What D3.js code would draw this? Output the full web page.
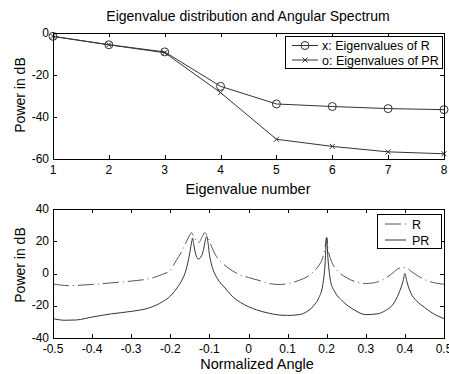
<!DOCTYPE html>
<html>
<head>
<meta charset="utf-8">
<script src="https://cdn.jsdelivr.net/npm/d3@7"></script>
<style>
  html, body { margin: 0; padding: 0; background: #fff; }
  svg { display: block; }
  text { font-family: Arial, "Liberation Sans", Helvetica, sans-serif; fill: #000; }
</style>
</head>
<body>
<svg id="chart" width="449" height="374"></svg>
<script>
// Eigenvalue plot data (dB)
const eigIndex = [1, 2, 3, 4, 5, 6, 7, 8];
const eigR  = [-1.6, -5.6, -9.0, -25.4, -33.8, -35.0, -36.0, -36.5];
const eigPR = [-1.6, -5.6, -9.4, -28.4, -50.6, -54.0, -56.6, -57.5];

// Angular spectrum data: normalized angle vs power (dB)
const angR = [-0.5, -0.46, -0.4, -0.35, -0.3, -0.25, -0.22, -0.2, -0.185, -0.17, -0.16, -0.15, -0.146, -0.14, -0.128,
  -0.118, -0.112, -0.105, -0.095, -0.082, -0.06, -0.04, -0.02, 0, 0.03, 0.06, 0.08, 0.1, 0.13, 0.15, 0.17, 0.18,
  0.19, 0.195, 0.2, 0.203, 0.21, 0.22, 0.23, 0.25, 0.28, 0.3, 0.33, 0.35, 0.37, 0.385, 0.395, 0.405, 0.415, 0.43,
  0.45, 0.48, 0.5];
const powR = [-6.5, -7.5, -6.8, -5.8, -4.7, -3.0, -0.5, 2.0, 8.0, 14.0, 19.0, 24.0, 25.3, 23.0, 19.0,
  23.0, 25.3, 23.0, 17.0, 10.5, 5.0, 1.5, -1.0, -2.5, -4.5, -6.5, -6.8, -6.3, -4.2, -2.0, 2.0, 5.0,
  10.0, 15.0, 22.5, 16.0, 9.0, 4.0, 1.0, -2.5, -5.5, -6.2, -5.2, -3.0, 0.5, 3.3, 3.7, 3.3, 1.5, -1.0,
  -3.7, -6.0, -6.6];

const angPR = [-0.5, -0.47, -0.44, -0.4, -0.35, -0.3, -0.25, -0.22, -0.2, -0.18, -0.17, -0.16, -0.155, -0.15, -0.145,
  -0.143, -0.14, -0.135, -0.128, -0.12, -0.115, -0.11, -0.107, -0.103, -0.1, -0.095, -0.09, -0.08, -0.06, -0.04,
  -0.02, 0, 0.02, 0.05, 0.08, 0.1, 0.13, 0.15, 0.17, 0.18, 0.19, 0.195, 0.2, 0.203, 0.207, 0.21, 0.22, 0.24,
  0.27, 0.3, 0.33, 0.35, 0.37, 0.385, 0.395, 0.4, 0.405, 0.415, 0.43, 0.45, 0.47, 0.5];
const powPR = [-28.0, -29.0, -28.8, -27.0, -25.0, -23.5, -21.0, -17.5, -14.0, -8.0, -4.0, 2.0, 7.0, 13.0, 20.0,
  22.0, 18.0, 12.0, 9.0, 11.0, 15.0, 21.0, 23.0, 18.0, 12.0, 6.0, 2.0, -3.0, -9.0, -14.5,
  -18.0, -20.6, -22.5, -24.5, -25.8, -26.0, -25.5, -23.5, -19.0, -15.0, -7.0, 3.0, 22.0, 10.0, 0.0, -5.0, -11.0, -17.0,
  -22.5, -25.5, -25.0, -23.0, -19.0, -12.0, -5.0, 0.0, -5.0, -12.0, -17.0, -21.0, -24.5, -28.0];

// Tick labels
const topXTicks = [1, 2, 3, 4, 5, 6, 7, 8];
const topYTicks = [0, -20, -40, -60];
const botXTicks = [-0.5, -0.4, -0.3, -0.2, -0.1, 0, 0.1, 0.2, 0.3, 0.4, 0.5];
const botYTicks = [40, 20, 0, -20, -40];

const svg = d3.select("#chart");
const LINE = "#333";
const DASH = "16,4,1,4";

// Draws a Matlab-style boxed axes with inward ticks on all four sides
function boxedAxes(g, x, y, xTicks, yTicks, xFmt, yFmt) {
  const [x0, x1] = x.range();
  const [y0, y1] = y.range(); // y0 bottom, y1 top
  const tl = 4;
  g.append("rect").attr("x", x0).attr("y", y1).attr("width", x1 - x0).attr("height", y0 - y1)
    .attr("fill", "none").attr("stroke", "#000").attr("stroke-width", 1).attr("shape-rendering", "crispEdges");
  xTicks.forEach(t => {
    const px = Math.round(x(t)) + 0.5;
    g.append("line").attr("x1", px).attr("x2", px).attr("y1", y0).attr("y2", y0 - tl).attr("stroke", "#000");
    g.append("line").attr("x1", px).attr("x2", px).attr("y1", y1).attr("y2", y1 + tl).attr("stroke", "#000");
    g.append("text").attr("x", x(t)).attr("y", y0 + 15).attr("text-anchor", "middle")
      .attr("font-size", 12).text(xFmt(t));
  });
  yTicks.forEach(t => {
    const py = Math.round(y(t)) + 0.5;
    g.append("line").attr("x1", x0).attr("x2", x0 + tl).attr("y1", py).attr("y2", py).attr("stroke", "#000");
    g.append("line").attr("x1", x1).attr("x2", x1 - tl).attr("y1", py).attr("y2", py).attr("stroke", "#000");
    g.append("text").attr("x", x0 - 4).attr("y", y(t) + 3.5).attr("text-anchor", "end")
      .attr("font-size", 12).text(yFmt(t));
  });
}

// ---- Top: eigenvalue distribution ----
const xTop = d3.scaleLinear().domain([1, 8]).range([53, 444]);
const yTop = d3.scaleLinear().domain([-60, 0]).range([159, 33]);
const gTop = svg.append("g");

svg.append("text").attr("x", 248).attr("y", 21).attr("text-anchor", "middle").attr("font-size", 14)
  .text("Eigenvalue distribution and Angular Spectrum");

const lineTop = d3.line().x((d, i) => xTop(eigIndex[i])).y(d => yTop(d));
gTop.append("path").attr("d", lineTop(eigR)).attr("fill", "none").attr("stroke", LINE).attr("stroke-width", 1);
gTop.append("path").attr("d", lineTop(eigPR)).attr("fill", "none").attr("stroke", LINE).attr("stroke-width", 1);

function circleMark(g, cx, cy) {
  g.append("circle").attr("cx", cx).attr("cy", cy).attr("r", 4).attr("fill", "none").attr("stroke", LINE);
}
function crossMark(g, cx, cy) {
  const s = 2.5;
  g.append("path").attr("d", `M${cx - s},${cy - s}L${cx + s},${cy + s}M${cx - s},${cy + s}L${cx + s},${cy - s}`)
    .attr("stroke", LINE).attr("fill", "none");
}
eigR.forEach((v, i) => circleMark(gTop, xTop(eigIndex[i]), yTop(v)));
eigPR.forEach((v, i) => crossMark(gTop, xTop(eigIndex[i]), yTop(v)));

boxedAxes(gTop, xTop, yTop, topXTicks, topYTicks, d => d, d => d);

svg.append("text").attr("x", 248).attr("y", 194).attr("text-anchor", "middle").attr("font-size", 14.5)
  .text("Eigenvalue number");
svg.append("text").attr("transform", `translate(25,95) rotate(-90)`).attr("text-anchor", "middle")
  .attr("font-size", 14).text("Power in dB");

// legend (top)
const lg1 = gTop.append("g");
lg1.append("rect").attr("x", 285.5).attr("y", 36.5).attr("width", 157).attr("height", 32)
  .attr("fill", "#fff").attr("stroke", "#000");
[["x: Eigenvalues of R", "o"], ["o: Eigenvalues of PR", "x"]].forEach(([label, m], i) => {
  const yy = 45.5 + i * 14.5;
  lg1.append("line").attr("x1", 292).attr("x2", 318).attr("y1", yy).attr("y2", yy).attr("stroke", LINE);
  if (m === "o") circleMark(lg1, 305, yy); else crossMark(lg1, 305, yy);
  lg1.append("text").attr("x", 322).attr("y", yy + 4.5).attr("font-size", 12.5).text(label);
});

// ---- Bottom: angular spectrum ----
const xBot = d3.scaleLinear().domain([-0.5, 0.5]).range([53, 444]);
const yBot = d3.scaleLinear().domain([-40, 40]).range([338, 209]);
const gBot = svg.append("g");

const lineR = d3.line().x((d, i) => xBot(angR[i])).y(d => yBot(d)).curve(d3.curveMonotoneX);
const linePR = d3.line().x((d, i) => xBot(angPR[i])).y(d => yBot(d)).curve(d3.curveMonotoneX);
gBot.append("path").attr("d", lineR(powR)).attr("fill", "none").attr("stroke", "#555")
  .attr("stroke-width", 1).attr("stroke-dasharray", DASH);
gBot.append("path").attr("d", linePR(powPR)).attr("fill", "none").attr("stroke", LINE).attr("stroke-width", 1);

boxedAxes(gBot, xBot, yBot, botXTicks, botYTicks, d => d, d => d);

svg.append("text").attr("x", 257).attr("y", 369).attr("text-anchor", "middle").attr("font-size", 14.5)
  .text("Normalized Angle");
svg.append("text").attr("transform", `translate(25,265) rotate(-90)`).attr("text-anchor", "middle")
  .attr("font-size", 14).text("Power in dB");

// legend (bottom)
const lg2 = gBot.append("g");
lg2.append("rect").attr("x", 377.5).attr("y", 214.5).attr("width", 64).attr("height", 34)
  .attr("fill", "#fff").attr("stroke", "#000");
lg2.append("line").attr("x1", 385).attr("x2", 406).attr("y1", 224).attr("y2", 224).attr("stroke", "#555")
  .attr("stroke-dasharray", DASH);
lg2.append("text").attr("x", 412).attr("y", 228.5).attr("font-size", 12.5).text("R");
lg2.append("line").attr("x1", 385).attr("x2", 406).attr("y1", 240).attr("y2", 240).attr("stroke", LINE);
lg2.append("text").attr("x", 412).attr("y", 244.5).attr("font-size", 12.5).text("PR");
</script>
</body>
</html>
